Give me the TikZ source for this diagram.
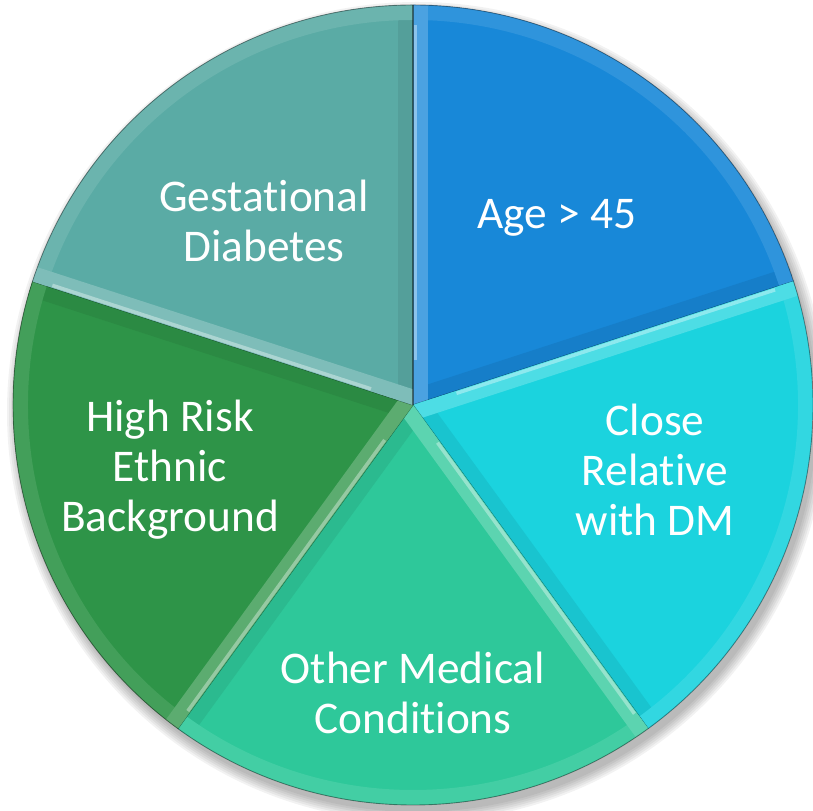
\documentclass[tikz,border=0pt]{standalone}
\usepackage{fontspec}
\setmainfont{Carlito}[Ligatures=NoCommon, Contextuals=NoAlternate]
\usepackage{xcolor}
\usepackage{tikz}
\usetikzlibrary{calc}

\definecolor{ageblue}{HTML}{1888D8}
\definecolor{relcyan}{HTML}{1BD3DE}
\definecolor{medgreen}{HTML}{2EC89A}
\definecolor{ethgreen}{HTML}{2E9448}
\definecolor{gesteal}{HTML}{5AABA5}

\begin{document}
\begin{tikzpicture}[
  slicetext/.style={text=white, align=center, font=\fontsize{25.8}{28.5}\selectfont},
  bevel/.style={line width=0.6cm}]

  \useasboundingbox (0,0) rectangle (16.26,16.2);
  \coordinate (c) at (8.26,8.10);

  % soft shadow under the pie
  \foreach \i in {0,...,5}
    \fill[black, opacity=0.05] ($(c)+(0.08,-0.14)$) circle ({8+0.04*\i});

  % five equal slices, each with a bevelled rim
  \foreach \a/\col in {18/ageblue, -54/relcyan, -126/medgreen, 162/ethgreen, 90/gesteal}{
    \begin{scope}
      \clip (c) -- ++(\a:8) arc[start angle=\a, delta angle=72, radius=8] -- cycle;
      \fill[\col] (c) circle (8);
      \draw[bevel, \col!93!black] (c) -- ++(\a:8);
      \draw[bevel, \col!90!white] ($(c)+(\a:8)$) arc[start angle=\a, delta angle=72, radius=8];
      \draw[bevel, \col!78!white] (c) -- ++({\a+72}:8);
      % thin highlight just inside the left rim
      \draw[\col!50!white, line width=2pt] ($(c)+({\a+72-3}:0.9)$) -- ++({\a+72}:6.7);
    \end{scope}
    \draw[black, opacity=0.45, line width=0.6pt] (c) -- ++(\a:8);
  }
  \draw[black, opacity=0.4, line width=0.5pt] (c) circle (8);

  \node[slicetext] (gest) at (5.28,11.78) {Gestational\\Diabetes};
  \node[slicetext] (age) at (11.14,11.84) {Age > 45};
  \node[slicetext] (rel) at (13.10,6.80) {Close\\Relative\\with DM};
  \node[slicetext] (med) at (8.26,2.34) {Other Medical\\Conditions};
  \node[slicetext] (eth) at (3.40,6.80) {High Risk\\Ethnic\\Background};

\end{tikzpicture}
\end{document}
